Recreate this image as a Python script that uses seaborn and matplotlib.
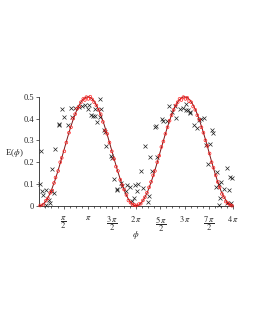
import matplotlib
matplotlib.use("Agg")
import matplotlib.pyplot as plt
import numpy as np
import pandas as pd
import seaborn as sns

# ---------------------------------------------------------
# Data
# ---------------------------------------------------------
# smooth model curve E(phi)
curve_phi = [0.0, 0.2, 0.4, 0.6, 0.8, 1.0, 1.2, 1.4, 1.6, 1.8, 2.0, 2.2, 2.4, 2.6, 2.8,
             3.0, 3.2, 3.4, 3.6, 3.8, 4.0, 4.2, 4.4, 4.6, 4.8, 5.0, 5.2, 5.4, 5.6, 5.8,
             6.0, 6.2, 6.4, 6.6, 6.8, 7.0, 7.2, 7.4, 7.6, 7.8, 8.0, 8.2, 8.4, 8.6, 8.8,
             9.0, 9.2, 9.4, 9.6, 9.8, 10.0, 10.2, 10.4, 10.6, 10.8, 11.0, 11.2, 11.4,
             11.6, 11.8, 12.0, 12.2, 12.4, 12.566]
curve_E = [0.0, 0.005, 0.020, 0.044, 0.076, 0.115, 0.159, 0.207, 0.257, 0.307, 0.354,
           0.397, 0.434, 0.464, 0.486, 0.497, 0.500, 0.492, 0.474, 0.448, 0.413, 0.373,
           0.327, 0.278, 0.228, 0.179, 0.133, 0.091, 0.056, 0.028, 0.010, 0.001, 0.002,
           0.012, 0.033, 0.061, 0.098, 0.140, 0.187, 0.237, 0.286, 0.335, 0.380, 0.420,
           0.453, 0.478, 0.494, 0.500, 0.496, 0.483, 0.460, 0.429, 0.391, 0.347, 0.300,
           0.249, 0.198, 0.150, 0.105, 0.067, 0.039, 0.016, 0.004, 0.0]

# red circles (close to the curve)
red_phi = [0.05, 0.25, 0.42, 0.55, 0.70, 0.83, 0.95, 1.05, 1.22, 1.35, 1.45, 1.62, 1.75,
           1.92, 2.05, 2.18, 2.32, 2.45, 2.58, 2.70, 2.85, 2.95, 3.05, 3.18, 3.30, 3.42,
           3.55, 3.70, 3.85, 3.98, 4.12, 4.28, 4.40, 4.55, 4.70, 4.85, 4.97, 5.10, 5.25,
           5.38, 5.50, 5.65, 5.78, 5.92, 6.05, 6.18, 6.30, 6.45, 6.58, 6.72, 6.85, 6.98,
           7.12, 7.25, 7.38, 7.50, 7.65, 7.78, 7.92, 8.05, 8.18, 8.32, 8.45, 8.58, 8.72,
           8.85, 8.98, 9.10, 9.22, 9.35, 9.48, 9.60, 9.72, 9.85, 9.98, 10.12, 10.25,
           10.38, 10.52, 10.65, 10.78, 10.90, 11.05, 11.18, 11.30, 11.45, 11.58, 11.70,
           11.85, 11.98, 12.10, 12.25, 12.38, 12.50]
red_E = [0.002, 0.006, 0.024, 0.035, 0.060, 0.070, 0.105, 0.130, 0.160, 0.200, 0.220,
         0.250, 0.290, 0.335, 0.360, 0.400, 0.420, 0.445, 0.455, 0.475, 0.490, 0.485,
         0.498, 0.490, 0.500, 0.488, 0.475, 0.460, 0.440, 0.420, 0.385, 0.345, 0.330,
         0.290, 0.250, 0.215, 0.180, 0.160, 0.120, 0.095, 0.075, 0.050, 0.025, 0.015,
         0.006, 0.004, 0.002, 0.008, 0.010, 0.025, 0.040, 0.060, 0.085, 0.110, 0.140,
         0.160, 0.200, 0.230, 0.270, 0.295, 0.330, 0.360, 0.390, 0.415, 0.440, 0.460,
         0.475, 0.490, 0.485, 0.498, 0.490, 0.495, 0.480, 0.475, 0.455, 0.440, 0.415,
         0.395, 0.360, 0.335, 0.300, 0.275, 0.240, 0.200, 0.175, 0.140, 0.110, 0.085,
         0.055, 0.040, 0.020, 0.012, 0.005, 0.001]

# black crosses (scattered measurements)
black_phi = [0.08, 0.04, 0.17, 0.25, 0.43, 0.43, 0.60, 0.67, 0.74, 0.95, 0.82, 1.03,
             1.25, 1.29, 1.47, 1.62, 1.88, 2.05, 2.12, 2.34, 2.56, 2.77, 2.98, 3.14,
             3.25, 3.38, 3.51, 3.60, 3.64, 3.77, 3.92, 3.96, 4.03, 4.18, 4.29, 4.35,
             4.68, 4.74, 4.85, 5.02, 5.07, 5.33, 5.39, 5.61, 5.72, 5.89, 5.98, 6.17,
             6.20, 6.33, 6.39, 6.61, 6.72, 6.87, 7.04, 7.09, 7.19, 7.30, 7.52, 7.59,
             7.65, 7.96, 8.02, 8.30, 8.39, 8.63, 8.82, 8.86, 9.14, 9.35, 9.52, 9.55,
             9.67, 9.75, 9.80, 10.01, 10.23, 10.34, 10.49, 10.66, 10.82, 10.92, 11.10,
             11.18, 11.29, 11.47, 11.51, 11.64, 11.68, 11.75, 11.79, 11.97, 12.16,
             12.18, 12.29, 12.38, 12.44, 12.51]
black_E = [0.250, 0.102, 0.067, 0.049, 0.072, 0.006, 0.026, 0.015, 0.067, 0.058, 0.168,
           0.259, 0.376, 0.370, 0.445, 0.407, 0.369, 0.448, 0.407, 0.448, 0.453, 0.457,
           0.463, 0.442, 0.463, 0.415, 0.413, 0.412, 0.445, 0.384, 0.407, 0.488, 0.442,
           0.346, 0.339, 0.274, 0.229, 0.220, 0.122, 0.073, 0.079, 0.107, 0.091, 0.069,
           0.095, 0.088, 0.023, 0.035, 0.097, 0.069, 0.099, 0.160, 0.082, 0.274, 0.018,
           0.046, 0.224, 0.160, 0.361, 0.365, 0.226, 0.400, 0.390, 0.388, 0.457, 0.430,
           0.457, 0.404, 0.444, 0.450, 0.468, 0.440, 0.438, 0.430, 0.427, 0.369, 0.357,
           0.393, 0.397, 0.401, 0.278, 0.194, 0.285, 0.346, 0.335, 0.087, 0.156, 0.003,
           0.099, 0.037, 0.110, 0.076, 0.174, 0.015, 0.072, 0.133, 0.015, 0.128]

tick_pos = [np.pi / 2 * k for k in range(1, 9)]
tick_labels = [r'$\dfrac{\pi}{2}$', r'$\pi$', r'$\dfrac{3\,\pi}{2}$', r'$2\,\pi$',
               r'$\dfrac{5\,\pi}{2}$', r'$3\,\pi$', r'$\dfrac{7\,\pi}{2}$', r'$4\,\pi$']

# ---------------------------------------------------------
# Plot
# ---------------------------------------------------------
sns.set_style("ticks")
plt.rcParams['font.family'] = ['Liberation Serif', 'DejaVu Serif']
plt.rcParams['mathtext.fontset'] = 'stix'

curve_df = pd.DataFrame({'phi': curve_phi, 'E': curve_E})
red_df = pd.DataFrame({'phi': red_phi, 'E': red_E})
black_df = pd.DataFrame({'phi': black_phi, 'E': black_E})

fig = plt.figure(figsize=(2.55, 3.3), dpi=100)
ax = fig.add_axes([0.1545, 0.376, 0.759, 0.331])

sns.scatterplot(data=black_df, x='phi', y='E', ax=ax, marker='x', color='#222222',
                s=8, linewidth=0.5, zorder=2, clip_on=False)
sns.lineplot(data=curve_df, x='phi', y='E', ax=ax, color='#7a1515', linewidth=0.7,
             zorder=3, clip_on=False)
sns.scatterplot(data=red_df, x='phi', y='E', ax=ax, marker='o', facecolor='none',
                edgecolor='#ff2020', s=4, linewidth=0.5, zorder=4, clip_on=False)

ax.set_xlim(0, 4 * np.pi)
ax.set_ylim(0, 0.5)
ax.set_xticks(tick_pos)
ax.set_xticklabels(tick_labels, fontsize=6)
ax.set_xticks([np.pi / 8 * k for k in range(1, 33)], minor=True)
ax.set_yticks([0, 0.1, 0.2, 0.3, 0.4, 0.5])
ax.set_yticklabels(['0', '0.1', '0.2', '0.3', '0.4', '0.5'], fontsize=6)
ax.tick_params(axis='both', which='major', length=2, width=0.5, pad=2)
ax.tick_params(axis='x', which='major', pad=4)
ax.tick_params(axis='x', which='minor', length=1.5, width=0.5)

sns.despine(ax=ax)
for side in ['left', 'bottom']:
    ax.spines[side].set_linewidth(0.6)

ax.set_xlabel('')
ax.set_ylabel('')
fig.text(14 / 255, 1 - 153 / 330, r'E($\phi$)', fontsize=6.5, ha='center', va='center')
fig.text(136 / 255, 1 - 235 / 330, r'$\phi$', fontsize=6.5, ha='center', va='center')

plt.savefig('out.png', dpi=100)
plt.close()
